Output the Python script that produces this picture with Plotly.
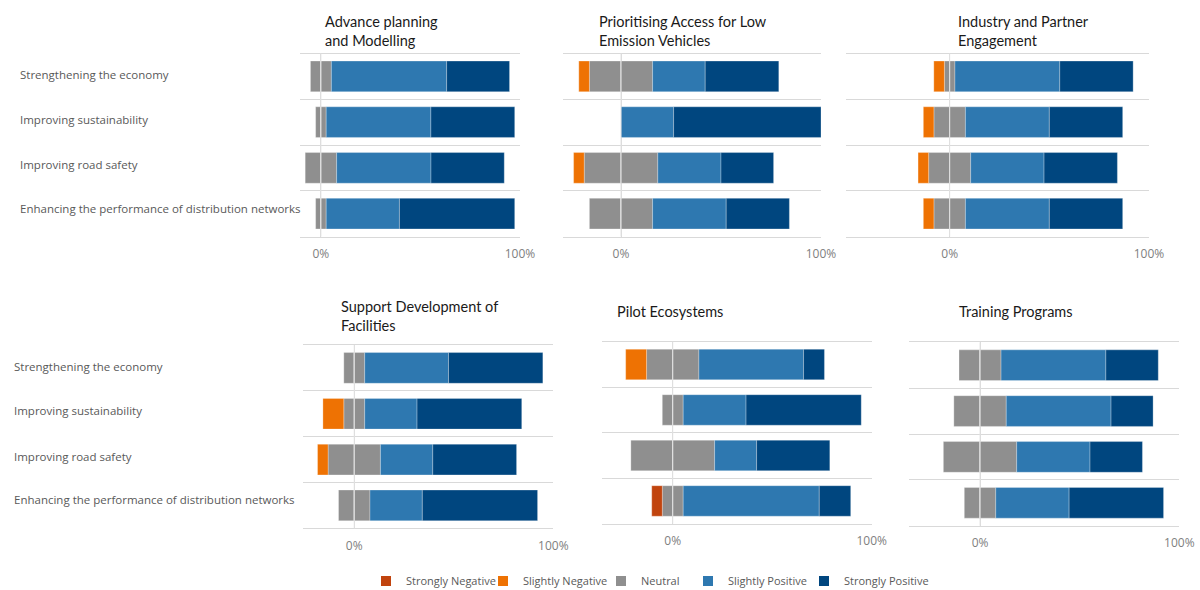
import plotly.graph_objects as go

# ---------------- data (percent of respondents) ----------------
categories = [
    "Strengthening the economy",
    "Improving sustainability",
    "Improving road safety",
    "Enhancing the performance of distribution networks",
]
panel_titles = [
    "Advance planning<br>and Modelling",
    "Prioritising Access for Low<br>Emission Vehicles",
    "Industry and Partner<br>Engagement",
    "Support Development of<br>Facilities",
    "Pilot Ecosystems",
    "Training Programs",
]
series_names = ["Strongly Negative", "Slightly Negative", "Neutral",
                "Slightly Positive", "Strongly Positive"]

strongly_negative = [
    [0, 0, 0, 0],
    [0, 0, 0, 0],
    [0, 0, 0, 0],
    [0, 0, 0, 0],
    [0, 0, 0, 5.3],
    [0, 0, 0, 0],
]
slightly_negative = [
    [0, 0, 0, 0],
    [5.3, 0, 5.3, 0],
    [5.3, 5.3, 5.3, 5.3],
    [0, 10.5, 5.3, 0],
    [10.5, 0, 0, 0],
    [0, 0, 0, 0],
]
neutral = [
    [10.5, 5.3, 15.8, 5.3],
    [31.6, 0, 36.8, 31.6],
    [5.3, 15.8, 21.1, 15.8],
    [10.5, 10.5, 26.3, 15.8],
    [26.3, 10.5, 42.1, 10.5],
    [21.1, 26.3, 36.8, 15.8],
]
slightly_positive = [
    [57.9, 52.6, 47.4, 36.8],
    [26.3, 26.3, 31.6, 36.8],
    [52.6, 42.1, 36.8, 42.1],
    [42.1, 26.3, 26.3, 26.3],
    [52.6, 31.6, 21.1, 68.4],
    [52.6, 52.6, 36.8, 36.8],
]
strongly_positive = [
    [31.6, 42.1, 36.8, 57.9],
    [36.8, 73.7, 26.3, 31.6],
    [36.8, 36.8, 36.8, 36.8],
    [47.4, 52.6, 42.1, 57.9],
    [10.5, 57.9, 36.8, 15.8],
    [26.3, 21.1, 26.3, 47.4],
]

# ---------------- styling / layout ----------------
colors = {
    "Strongly Negative": "#C1440E",
    "Slightly Negative": "#EE7203",
    "Neutral": "#8F8F8F",
    "Slightly Positive": "#2E78B0",
    "Strongly Positive": "#00467F",
}
W, H = 1200, 590
# plot-area pixel boxes: (left, right, top, bottom) and x-range minimum
boxes = [
    (300, 520, 53.5, 236.5, -10.5),
    (563, 821, 53.5, 236.5, -29),
    (846, 1149, 53.5, 236.5, -52),
    (303.3, 553.3, 345, 528.3, -25.6),
    (601.7, 871.7, 341.7, 523.7, -35.7),
    (909.3, 1179.3, 342.3, 525.7, -35.5),
]
title_pos = [(323, 11), (597, 11), (956, 11), (339, 296), (615, 301), (957, 301)]
label_shift = [1.5, 3, 3.5, 5.5]
# legend: one legend box per entry, positioned by where its marker sits
legend_ids = {"Strongly Negative": "legend", "Slightly Negative": "legend2",
              "Neutral": "legend3", "Slightly Positive": "legend4",
              "Strongly Positive": "legend5"}
legend_marker_x = {"Strongly Negative": 392, "Slightly Negative": 509,
                   "Neutral": 627, "Slightly Positive": 714,
                   "Strongly Positive": 830}

grid_col = "#D9D9D9"
label_col = "#595959"
tick_col = "#808080"
label_font = "Open Sans"
title_font = "Lato"

fig = go.Figure()
layout = {}
shapes = []
annotations = []

for i in range(6):
    s = "" if i == 0 else str(i + 1)
    xa, ya = "x" + s, "y" + s
    half_n = [v / 2 for v in neutral[i]]
    bar_line = dict(color="rgba(255,255,255,0.35)", width=0.8)

    def add(vals, name):
        fig.add_trace(go.Bar(
            y=categories, x=vals, orientation="h", name=name,
            marker=dict(color=colors[name], line=bar_line),
            legendgroup=name, showlegend=False,
            xaxis=xa, yaxis=ya, hoverinfo="x+y+name",
        ))

    add([-v for v in half_n], "Neutral")
    add([-v for v in slightly_negative[i]], "Slightly Negative")
    add([-v for v in strongly_negative[i]], "Strongly Negative")
    add(half_n, "Neutral")
    add(slightly_positive[i], "Slightly Positive")
    add(strongly_positive[i], "Strongly Positive")

    l, r, t, b, xmin = boxes[i]
    layout["xaxis" + s] = dict(
        domain=[l / W, r / W], anchor=ya, range=[xmin, 100],
        tickvals=[0, 100], ticktext=["0%", "100%"],
        showgrid=True, gridcolor=grid_col, gridwidth=1, zeroline=False,
        showline=True, linecolor=grid_col, linewidth=1, mirror=True,
        ticks="outside", ticklen=6, tickcolor="rgba(0,0,0,0)",
        tickfont=dict(family=label_font, size=12, color=tick_col),
        automargin=False, fixedrange=True,
    )
    layout["yaxis" + s] = dict(
        domain=[1 - b / H, 1 - t / H], anchor=xa, type="category",
        categoryorder="array", categoryarray=categories,
        range=[3.5, -0.5], tickson="boundaries",
        showgrid=True, gridcolor=grid_col, gridwidth=1,
        showticklabels=False, ticks="", showline=False, zeroline=False,
        automargin=False, fixedrange=True,
    )
    # light zero line drawn over the bars
    shapes.append(dict(type="line", xref=xa, yref=ya + " domain",
                       x0=0, x1=0, y0=0, y1=1, layer="above",
                       line=dict(color="rgba(225,225,225,0.95)", width=1)))
    tx, ty = title_pos[i]
    annotations.append(dict(
        text=panel_titles[i], xref="paper", yref="paper",
        x=tx / W, y=1 - ty / H, xanchor="left", yanchor="top",
        align="left", showarrow=False,
        font=dict(family=title_font, size=14.5, color="#1A1A1A"),
    ))

# legend-only entries (square markers) in the reference order
for name in series_names:
    fig.add_trace(go.Scatter(
        x=[None], y=[None], mode="markers", name=name,
        marker=dict(symbol="square", size=10, color=colors[name]),
        legend=legend_ids[name], showlegend=True, hoverinfo="skip",
    ))

# category labels for the left column
for ya, lx in (("y", 18), ("y4", 12)):
    for k, c in enumerate(categories):
        annotations.append(dict(
            text=c, xref="paper", yref=ya, x=lx / W, y=c,
            xanchor="left", yanchor="middle", showarrow=False,
            yshift=label_shift[k],
            font=dict(family=label_font, size=11.5, color=label_col),
        ))

legends = {}
for name, lid in legend_ids.items():
    legends[lid] = dict(
        orientation="h", x=(legend_marker_x[name] - 26) / W, xanchor="left",
        y=1 - 581 / H, yanchor="middle", bgcolor="rgba(0,0,0,0)",
        font=dict(family=label_font, size=11, color=label_col),
        itemclick=False, itemdoubleclick=False,
    )

fig.update_layout(
    width=W, height=H,
    margin=dict(l=0, r=0, t=0, b=0, pad=0, autoexpand=False),
    paper_bgcolor="white", plot_bgcolor="white",
    barmode="relative", bargap=0.33,
    showlegend=True,
    shapes=shapes, annotations=annotations,
    **legends,
    **layout,
)

fig.write_html("out.html", config={"displayModeBar": False})
